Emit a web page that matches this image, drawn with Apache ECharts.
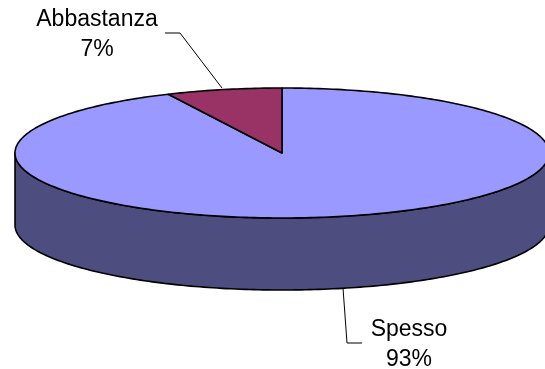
<!DOCTYPE html>
<html>
<head>
<meta charset="utf-8">
<script src="https://cdn.jsdelivr.net/npm/echarts@6/dist/echarts.min.js"></script>
<style>
  html, body { margin: 0; padding: 0; background: #ffffff; }
  #chart { width: 545px; height: 369px; }
</style>
</head>
<body>
<div id="chart"></div>
<script>
// Survey answer shares
const categories = ['Spesso', 'Abbastanza'];
const shares = [93, 7];
const percentLabels = ['93%', '7%'];

// Slice colours: top face and shaded rim
const topColors = ['#9999FF', '#993366'];
const sideColors = ['#4D4D80', '#4D1A33'];

// Tilted disc projection (pixels)
const disc = { cx: 282, cy: 153, rx: 267, ry: 65, depth: 72 };

// Label block anchors and leader-line elbows
const labelLayout = [
  { x: 409, y: 315, leader: [[343, 288], [347, 343], [362, 343]] },
  { x: 97, y: 5, leader: [[222, 88], [180, 33], [165, 33]] }
];

const total = shares.reduce((a, b) => a + b, 0);
const startAngles = [];
let acc = 0;
shares.forEach(v => { startAngles.push(acc / total * 360); acc += v; });

// angle in degrees, clockwise from 12 o'clock
function rimPoint(deg, drop) {
  const r = deg * Math.PI / 180;
  return [disc.cx + disc.rx * Math.sin(r), disc.cy - disc.ry * Math.cos(r) + (drop || 0)];
}
function arc(a0, a1, drop) {
  const pts = [];
  const n = Math.max(2, Math.ceil(Math.abs(a1 - a0)));
  for (let i = 0; i <= n; i++) pts.push(rimPoint(a0 + (a1 - a0) * i / n, drop));
  return pts;
}

function renderItem(params, api) {
  const i = params.dataIndex;
  const a0 = startAngles[i];
  const a1 = a0 + api.value(1) / total * 360;
  const children = [];

  // visible front rim between 90° and 270°
  const s0 = Math.max(a0, 90), s1 = Math.min(a1, 270);
  if (s1 > s0) {
    const pts = arc(s0, s1, 0).concat(arc(s1, s0, disc.depth));
    children.push({
      type: 'polygon', z2: 1,
      shape: { points: pts },
      style: { fill: sideColors[i], stroke: '#000', lineWidth: 1.6, lineJoin: 'round' }
    });
  }

  // top face
  children.push({
    type: 'polygon', z2: 10,
    shape: { points: [[disc.cx, disc.cy]].concat(arc(a0, a1, 0)) },
    style: { fill: topColors[i], stroke: '#000', lineWidth: 1.6, lineJoin: 'round' }
  });

  // leader line and label
  const lay = labelLayout[i];
  children.push({
    type: 'polyline', z2: 20,
    shape: { points: lay.leader },
    style: { stroke: '#000', lineWidth: 1, fill: null }
  });
  children.push({
    type: 'text', z2: 20,
    x: lay.x, y: lay.y,
    style: {
      text: categories[i] + '\n' + percentLabels[i],
      fill: '#000',
      font: '23px "Liberation Sans", Arial, sans-serif',
      lineHeight: 30,
      align: 'center', verticalAlign: 'top',
      textAlign: 'center', textVerticalAlign: 'top'
    }
  });

  return { type: 'group', children: children };
}

const chart = echarts.init(document.getElementById('chart'), null, { renderer: 'canvas' });
chart.setOption({
  animation: false,
  backgroundColor: '#ffffff',
  series: [{
    type: 'custom',
    coordinateSystem: 'none',
    renderItem: renderItem,
    data: categories.map((c, i) => [i, shares[i]])
  }]
});
</script>
</body>
</html>
